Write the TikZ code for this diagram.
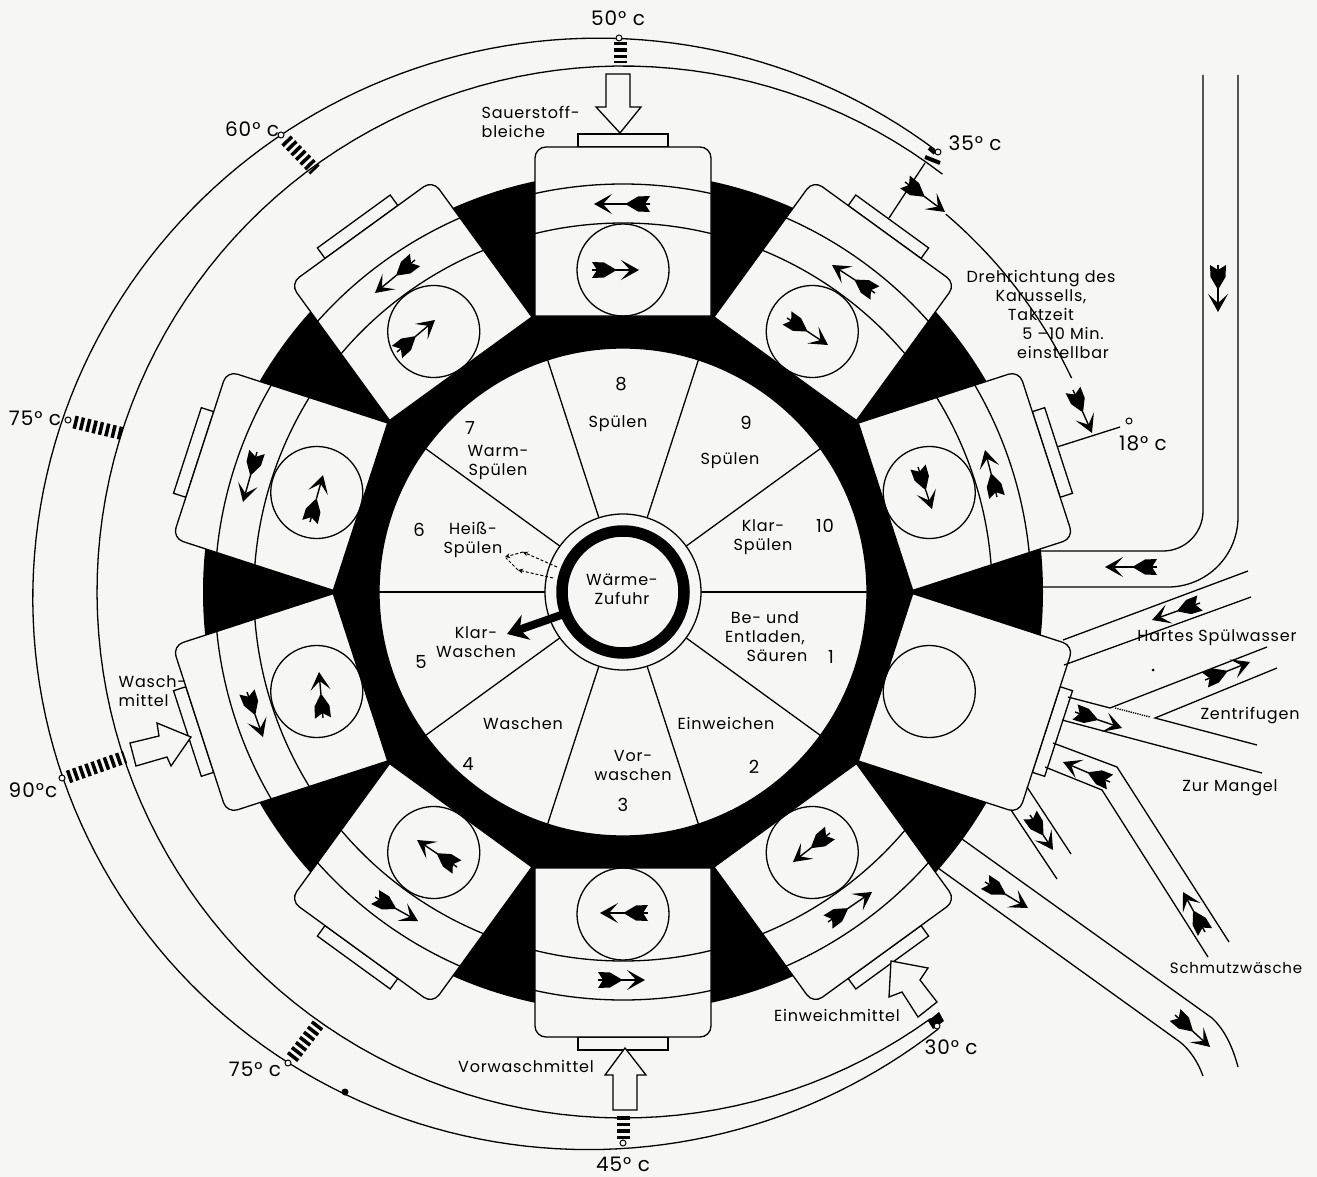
\documentclass[tikz,border=0pt]{standalone}
\usepackage{fontspec}
\setmainfont{Poppins}[LetterSpace=5]
\usepackage{xcolor}
\usetikzlibrary{arrows.meta,positioning,calc}
\definecolor{paper}{rgb}{0.965,0.965,0.955}
\tikzset{
    fletch/.pic={\fill (0,-8) -- (5,0) -- (0,8) -- (12,7.5) -- (23,1) -- (23,-1) -- (12,-7.5) -- cycle;}
}
\newcommand{\flowarrow}[2]{\draw[line width=1.4pt, -{Stealth[length=18pt,width=20pt,inset=9pt]}] #1 -- pic[pos=0,sloped,allow upside down]{fletch} #2;}

\begin{document}
\begin{tikzpicture}[
    x=1pt, y=-1pt,
    line width=1.3pt,
    plate/.style={draw, fill=paper},
    blockarrow/.style={draw, fill=paper, line join=miter},
    ladder/.style={line width=13pt, dash pattern=on 3.5pt off 3pt},
    txt/.style={font=\fontsize{16}{19}\selectfont, align=center, inner sep=0pt},
    txtl/.style={txt, align=left},
    temp/.style={font=\fontsize{20}{20}\selectfont, inner sep=0pt},
    num/.style={font=\fontsize{18}{20}\selectfont, inner sep=0pt},
    endring/.style={draw, fill=paper, circle, minimum size=6pt, inner sep=0pt, line width=1pt}
]
    \fill[paper] (0,0) rectangle (1317,1177);
    \useasboundingbox (0,0) rectangle (1317,1177);

    % Carousel
    \fill (623,592) circle[radius=420];
    \foreach \a in {90,54,18,-18,-54,-90,-126,-162,162,126} {
        \begin{scope}[shift={(623,592)}, rotate=\a]
            \draw[plate] (445,-45) rectangle (458,45);
            \draw[fill=paper] (276,-88) [rounded corners=11pt] -- (445,-88) -- (445,88) [sharp corners] -- (276,88) -- cycle;
            \ifnum\a=-18\else
                \begin{scope}
                    \clip (276,-88) rectangle (445,88);
                    \draw (0,0) circle[radius=369];
                    \draw (0,0) circle[radius=408];
                \end{scope}
            \fi
            \draw (322,0) circle[radius=46];
        \end{scope}
    }

    % Sectors and heat supply
    \draw[fill=paper] (623,592) circle[radius=244];
    \foreach \a in {0,36,...,324} {
        \draw ($(623,592)+(\a:78)$) -- ($(623,592)+(\a:244)$);
    }
    \draw[fill=paper] (623,592) circle[radius=78];
    \draw[line width=11.5pt] (623,592) circle[radius=61];
    \draw[line width=8pt, -{Stealth[length=20pt,width=26pt]}] (564,614) -- (507,634);
    \draw[densely dashed, line width=1pt, -{Stealth[length=5pt,width=5pt]}] (557,567) -- (523,552);
    \draw[densely dashed, line width=1pt, -{Stealth[length=5pt,width=5pt]}] (523,552) -- (505,557);
    \draw[densely dashed, line width=1pt, -{Stealth[length=5pt,width=5pt]}] (553,578) -- (518,570);
    \draw[densely dashed, line width=1pt] (518,570) -- (506,558);

    % Rings with the feed points
    \draw plot[domain=52.6:305.8, samples=120, variable=\a] ({623+526*cos(\a)},{592-526*sin(\a)});
    \draw plot[domain=54.8:305.8, samples=160, variable=\a] ({623+(558+31*cos(\a-200)+4*cos(2*(\a-200))+9*sin(\a))*cos(\a)},{592-(558+31*cos(\a-200)+4*cos(2*(\a-200))+9*sin(\a))*sin(\a)});
    \coordinate (ring50) at (620,42);
    \coordinate (ring60) at (286,140);
    \coordinate (ringL) at (74,422);
    \coordinate (ring90) at (68,777);
    \coordinate (ringB) at (292,1058);
    \coordinate (ring45) at (623,1139);
    \draw[ladder] (ring50) -- (620,63);
    \draw[ladder] (ring60) -- (315,170);
    \draw[ladder] (ringL) -- (124,434);
    \draw[ladder] (ring90) -- (125,757);
    \draw[ladder] (ringB) -- (320,1022);
    \draw[ladder] (ring45) -- (623,1116);
    \draw[line width=4pt] (925,157) -- (940,163);
    \draw[line width=4pt] (929,148) -- (935,153);
    \fill (928,1021) -- (939,1012) -- (944,1021) -- (933,1029) -- cycle;
    \node[endring] (end50) at (619,38) {};
    \node[endring] (end60) at (281,135) {};
    \node[endring] (end35) at (938,152) {};
    \node[endring] (endL) at (68,420) {};
    \node[endring] (end90) at (62,778) {};
    \node[endring] (endB) at (288,1063) {};
    \node[endring] (end45) at (623,1143) {};
    \node[endring] (end30) at (937,1026) {};
    \fill (345,1092) circle[radius=3.5];
    \fill (1153,670) circle[radius=1.5];

    % Rotation of the carousel
    \draw (925,163) -- (889,218);
    \draw plot[domain=49.5:25.5, samples=30, variable=\a] ({623+497*cos(\a)},{592-497*sin(\a)});
    \draw (1057,447) -- (1120,427);
    \node[endring] (end18) at (1129,421) {};

    % Pipes
    \draw[rounded corners=40pt] (1203,75) -- (1203,551) -- (1040,551);
    \draw[rounded corners=70pt] (1238,75) -- (1238,587) -- (1040,587);
    \draw (1063,640) -- (1248,571);
    \draw (1064,665) -- (1251,597);
    \draw (1068,697) -- (1110,708) -- (1267,647);
    \draw (1062,720) -- (1262,773);
    \draw (1277,668) -- (1155,718) -- (1257,745);
    \draw[densely dotted] (1115,708) -- (1150,717);
    \draw (1053,743) -- (1117,767) -- (1229,942);
    \draw (1045,767) -- (1102,790) -- (1208,957);
    \draw (1027,787) -- (1071,854);
    \draw (1011,810) -- (1057,879);
    \draw (962,839) -- (1212,1018) .. controls (1225,1030) and (1233,1048) .. (1238,1067);
    \draw (938,868) -- (1180,1042) .. controls (1190,1050) and (1198,1062) .. (1203,1076);

    % Feed arrows
    \draw[blockarrow] (620,133) -- (596,107) -- (606,107) -- (606,74) -- (630,74) -- (630,107) -- (641,107) -- cycle;
    \draw[blockarrow] (625,1048) -- (605,1075) -- (613,1075) -- (613,1110) -- (637,1110) -- (637,1075) -- (646,1075) -- cycle;
    \draw[blockarrow] (191,737) -- (157,723) -- (159,736) -- (130,743) -- (136,766) -- (167,757) -- (171,766) -- cycle;
    \draw[blockarrow] (891,961) -- (928,968) -- (920,980) -- (937,1002) -- (918,1017) -- (902,992) -- (889,997) -- cycle;

    % Flow arrows in the stations
    \flowarrow{(650,204)}{(594,204)}
    \flowarrow{(592,270)}{(639,270)}
    \flowarrow{(875,293)}{(832,265)}
    \flowarrow{(787,318)}{(828,345)}
    \flowarrow{(997,497)}{(985,450)}
    \flowarrow{(918,467)}{(932,509)}
    \flowarrow{(830,833)}{(793,862)}
    \flowarrow{(828,922)}{(872,892)}
    \flowarrow{(648,913)}{(600,913)}
    \flowarrow{(598,980)}{(645,980)}
    \flowarrow{(457,867)}{(417,840)}
    \flowarrow{(375,897)}{(418,921)}
    \flowarrow{(323,718)}{(319,672)}
    \flowarrow{(247,692)}{(263,737)}
    \flowarrow{(310,522)}{(323,475)}
    \flowarrow{(257,452)}{(243,502)}
    \flowarrow{(397,352)}{(435,320)}
    \flowarrow{(415,260)}{(375,293)}

    % Flow arrows in the pipes
    \flowarrow{(905,182)}{(945,212)}
    \flowarrow{(1073,390)}{(1092,433)}
    \flowarrow{(1218,265)}{(1218,312)}
    \flowarrow{(1157,567)}{(1105,567)}
    \flowarrow{(1200,603)}{(1152,620)}
    \flowarrow{(1075,712)}{(1122,728)}
    \flowarrow{(1205,680)}{(1250,662)}
    \flowarrow{(1110,782)}{(1063,762)}
    \flowarrow{(1205,932)}{(1183,892)}
    \flowarrow{(1030,815)}{(1053,850)}
    \flowarrow{(985,882)}{(1028,908)}
    \flowarrow{(1175,1015)}{(1210,1047)}

    % Sector texts
    \node[num] (n8) at (621,384) {8};
    \node[txt] (s8) at (618,424) {Spülen};
    \node[num] (n9) at (746,423) {9};
    \node[txt] (s9) at (730,461) {Spülen};
    \node[num] (n10) at (825,526) {10};
    \node[txt] (s10) at (763,537) {Klar-\\Spülen};
    \node[num] (n1) at (831,657) {1};
    \node[txt] (s1) at (765,637) {Be- und\\Entladen,\\\hspace*{1.5em}Säuren};
    \node[txt] (s2) at (726,723) {Einweichen};
    \node[num] (n2) at (754,767) {2};
    \node[txt] (s3) at (633,765) {Vor-\\waschen};
    \node[num] (n3) at (623,805) {3};
    \node[txt] (s4) at (523,724) {Waschen};
    \node[num] (n4) at (468,764) {4};
    \node[txt] (s5) at (476,642) {Klar-\\Waschen};
    \node[num] (n5) at (421,662) {5};
    \node[num] (n6) at (419,530) {6};
    \node[txt] (s6) at (473,540) {Heiß-\\Spülen};
    \node[num] (n7) at (470,428) {7};
    \node[txt] (s7) at (498,463) {Warm-\\Spülen};
    \node[txt] (heat) at (622,589) {Wärme-\\Zufuhr};

    % Outer texts
    \node[temp] (t50) at (618,18) {50° c};
    \node[temp] (t60) at (252,129) {60° c};
    \node[temp] (t35) at (975,143) {35° c};
    \node[temp] (t75a) at (35,418) {75° c};
    \node[temp] (t18) at (1143,443) {18° c};
    \node[temp] (t90) at (33,790) {90°c};
    \node[temp] (t75b) at (255,1069) {75° c};
    \node[temp] (t45) at (623,1164) {45° c};
    \node[temp] (t30) at (951,1047) {30° c};
    \node[txtl, anchor=west] (bleach) at (481,122) {Sauerstoff-\\bleiche};
    \node[txtl, anchor=west] (wash) at (118,691) {Wasch-\\mittel};
    \node[txt] (soak) at (837,1015) {Einweichmittel};
    \node[txt] (prewash) at (526,1066) {Vorwaschmittel};
    \node[txt] (turn) at (1041,295) {Drehrichtung des\\Karussells,\\Taktzeit};
    \node[txt] (cycle) at (1063,343) {5 –10 Min.\\einstellbar};
    \node[txt] (hard) at (1217,638) {Hartes Spülwasser};
    \node[txt] (spin) at (1250,716) {Zentrifugen};
    \node[txt] (mangle) at (1230,788) {Zur Mangel};
    \node[txt, font=\fontsize{15}{19}\selectfont] (dirty) at (1236,968) {Schmutzwäsche};
\end{tikzpicture}
\end{document}
